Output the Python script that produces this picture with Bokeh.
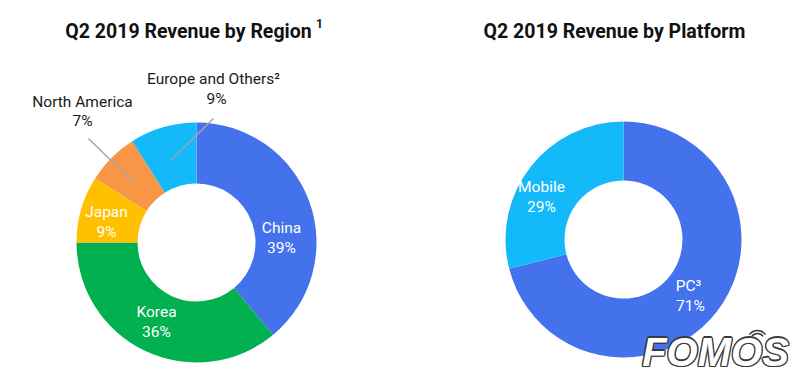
import numpy as np
from bokeh.plotting import figure
from bokeh.models import Range1d
from bokeh.core.properties import value
from bokeh.embed import file_html
from bokeh.resources import INLINE

# ---- data ----
regions = ["China", "Korea", "Japan", "North America", "Europe and Others"]
region_share = [39, 36, 9, 7, 9]
region_colors = ["#4472EC", "#02B04F", "#FFC000", "#F79646", "#14B9F9"]

platforms = ["PC", "Mobile"]
platform_share = [71, 29]
platform_colors = ["#4472EC", "#14B9F9"]

W, H = 800, 382
p = figure(width=W, height=H, output_backend="svg", toolbar_location=None,
           x_range=Range1d(0, 800), y_range=Range1d(0, 382), min_border=0)
p.axis.visible = False
p.grid.visible = False
p.outline_line_color = None
p.background_fill_color = "white"


def wy(y):  # window y -> data y
    return 382 - y


def angles(shares):
    s = np.array(shares, dtype=float)
    frac = s / s.sum()
    cum = np.concatenate([[0], np.cumsum(frac)])
    start = np.pi / 2 - 2 * np.pi * cum[:-1]
    end = np.pi / 2 - 2 * np.pi * cum[1:]
    return start, end


# left donut
st, en = angles(region_share)
p.annular_wedge(x=196, y=wy(242), inner_radius=59, outer_radius=120,
                start_angle=st, end_angle=en, direction="clock",
                fill_color=region_colors, line_color=None)
# right donut
st2, en2 = angles(platform_share)
p.annular_wedge(x=623, y=wy(239), inner_radius=59, outer_radius=118,
                start_angle=st2, end_angle=en2, direction="clock",
                fill_color=platform_colors, line_color=None)

font = value("Roboto")
FS = "15.5px"
# leader lines
p.segment(x0=[88, 213], y0=[wy(138), wy(118)], x1=[131, 170], y1=[wy(180), wy(160)],
          line_color="#A6A6A6", line_width=1.5)

# labels inside slices (white)
in_labels = [("China", f"{region_share[0]}%", 281, 227),
             ("Korea", f"{region_share[1]}%", 156, 311),
             ("Japan", f"{region_share[2]}%", 106, 211),
             ("Mobile", f"{platform_share[1]}%", 541, 186)]
for name, pct, x, y in in_labels:
    p.text(x=[x, x], y=[wy(y), wy(y + 20)], text=[name, pct], text_color="white",
           text_font=font, text_font_size=FS, text_align="center",
           text_baseline="middle")
# PC with superscript
p.text(x=[688], y=[wy(285)], text=["PC³"], text_color="white", text_font=font,
       text_font_size=FS, text_align="center", text_baseline="middle")
p.text(x=[690], y=[wy(305)], text=[f"{platform_share[0]}%"], text_color="white", text_font=font,
       text_font_size=FS, text_align="center", text_baseline="middle")

# outside labels (dark)
p.text(x=[213, 216], y=[wy(78), wy(98)], text=["Europe and Others²", f"{region_share[4]}%"],
       text_color="#1A1A1A", text_font=font, text_font_size=FS,
       text_align="center", text_baseline="middle")
p.text(x=[82, 82], y=[wy(101), wy(120)], text=["North America", f"{region_share[3]}%"],
       text_color="#1A1A1A", text_font=font, text_font_size=FS,
       text_align="center", text_baseline="middle")

# titles
p.text(x=[188, 614], y=[wy(31), wy(31)],
       text=["Q2 2019 Revenue by Region", "Q2 2019 Revenue by Platform"],
       text_color="#111111", text_font=font, text_font_style="bold",
       text_font_size="19.5px", text_align="center", text_baseline="middle")
p.text(x=[319], y=[wy(23)], text=["1"], text_color="#111111", text_font=font,
       text_font_style="bold", text_font_size="12px", text_align="center",
       text_baseline="middle")

# watermark logo (outlined text)
lf = value("Liberation Sans")
offs = [(-1.3, 0), (1.3, 0), (0, -1.3), (0, 1.3), (-1, -1), (1, 1), (-1, 1), (1, -1)]
for dx, dy in offs:
    p.text(x=[715 + dx], y=[wy(351) + dy], text=["FOMOS"], text_color="#3A3A3A",
           text_font=lf, text_font_style="bold italic",
           text_font_size="40px", text_align="center", text_baseline="middle")
p.text(x=[715], y=[wy(351)], text=["FOMOS"], text_color="white",
       text_font=lf, text_font_style="bold italic",
       text_font_size="40px", text_align="center", text_baseline="middle")
# signal arcs above the last O
p.arc(x=[757, 757], y=[wy(340), wy(340)], radius=[7, 10],
      start_angle=np.pi * 0.2, end_angle=np.pi * 0.8,
      line_color="#3A3A3A", line_width=1.5)

open("out.html", "w").write(file_html(p, INLINE))
